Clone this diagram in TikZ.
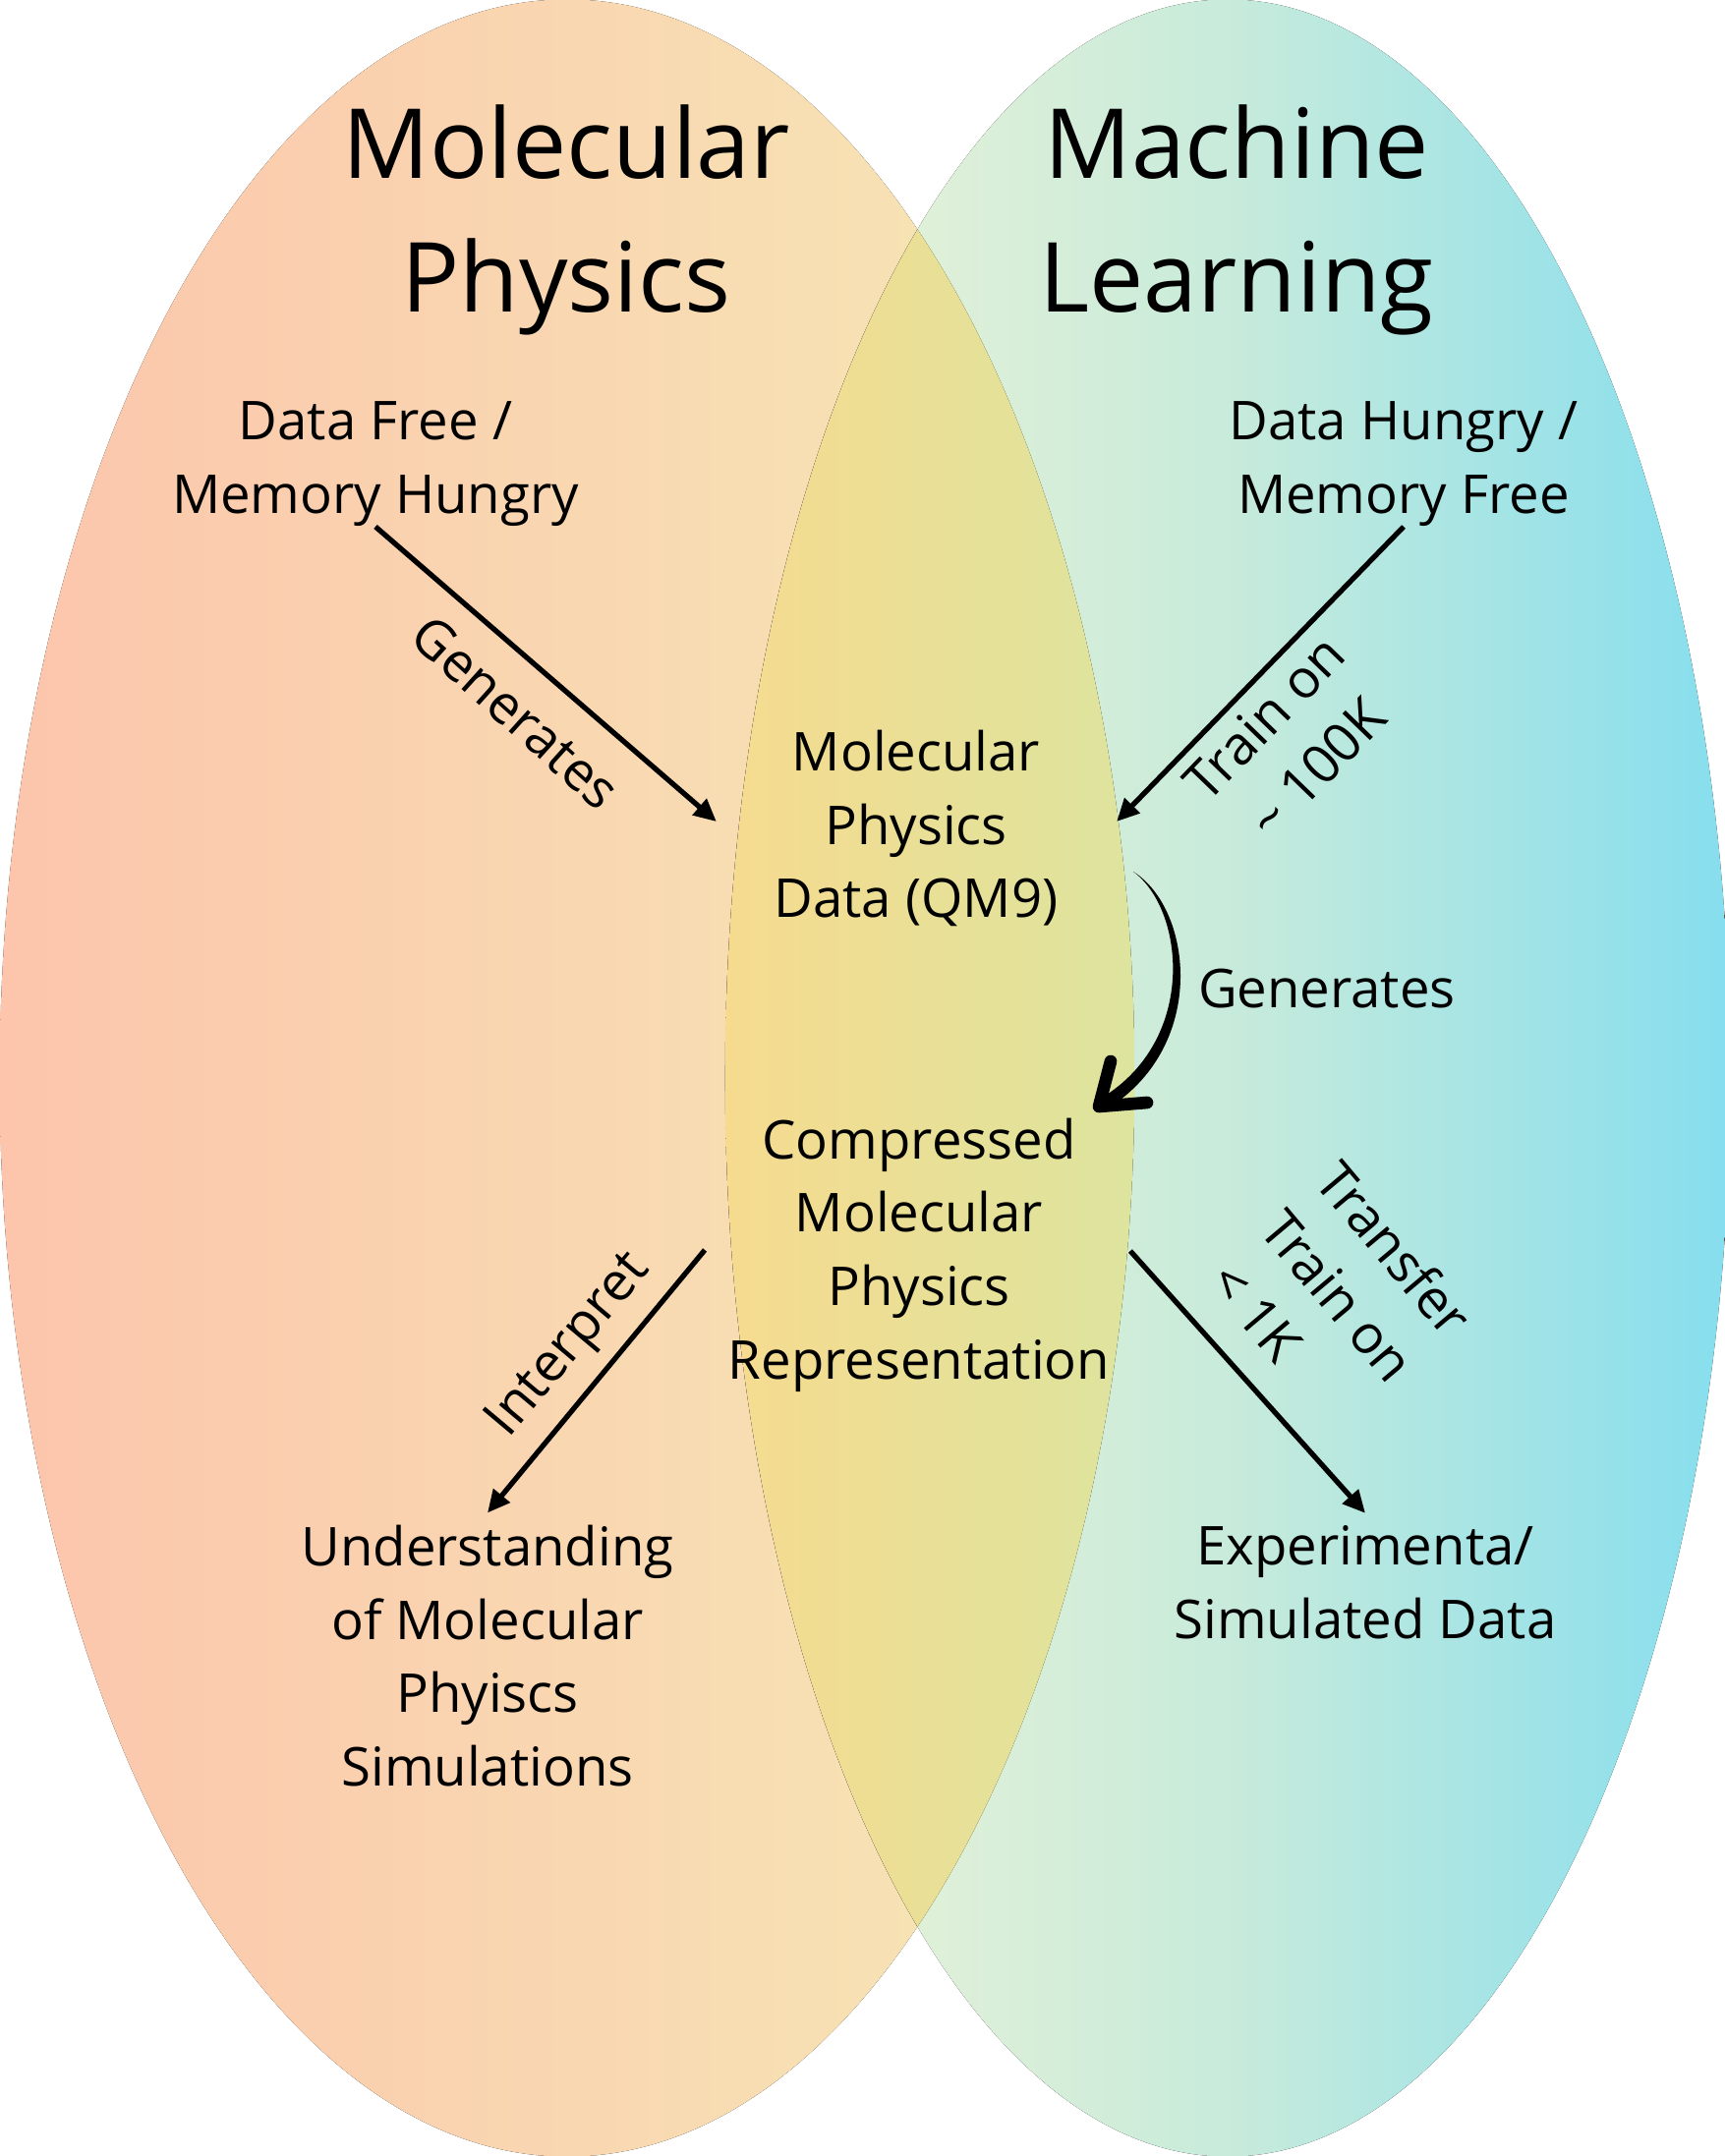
\documentclass[tikz,border=0pt]{standalone}
\usepackage{fontspec}
\setmainfont{Open Sans}
\usetikzlibrary{arrows.meta}

\definecolor{peach}{HTML}{FCC5AC}
\definecolor{sand}{HTML}{F6E9B6}
\definecolor{mintl}{HTML}{EEF3D6}
\definecolor{mintm}{HTML}{C8EBDB}
\definecolor{cyanr}{HTML}{86DEEE}
\definecolor{mixl}{HTML}{F6DB8F}
\definecolor{mixr}{HTML}{DDE49E}

\begin{document}
\begin{tikzpicture}[x=0.01cm,y=-0.01cm,
  ttl/.style={align=center,inner sep=0pt,font=\fontsize{28}{38.5}\selectfont},
  txt/.style={align=center,inner sep=0pt,font=\fontsize{15.5}{21.2}\selectfont},
  arr/.style={line width=1.5pt,-{Triangle[length=6.5pt,width=6pt]}}]
\useasboundingbox (0,0) rectangle (1755,2194);
% the two ellipses and their overlap
\fill[left color=peach,right color=sand] (577,1097) ellipse [x radius=5.77cm,y radius=10.97cm];
\fill[left color=mintl,right color=cyanr,middle color=mintm] (1249,1097) ellipse [x radius=5.11cm,y radius=10.97cm];
\begin{scope}
\clip (577,1097) ellipse [x radius=5.77cm,y radius=10.97cm];
\clip (1249,1097) ellipse [x radius=5.11cm,y radius=10.97cm];
\fill[left color=mixl,right color=mixr] (738,0) rectangle (1154,2194);
\end{scope}

% titles
\node[ttl] (mp) at (576,224) {Molecular\\Physics};
\node[ttl] (ml) at (1258,224) {Machine\\Learning};

% boxes of text
\node[txt] (dfree) at (382,472) {Data Free /\\Memory Hungry};
\node[txt] (dhungry) at (1428,472) {Data Hungry /\\Memory Free};
\node[txt] (qm9) at (932,843) {Molecular\\Physics\\Data (QM9)};
\node[txt] (rep) at (935,1277) {Compressed\\Molecular\\Physics\\Representation};
\node[txt] (und) at (496,1685) {Understanding\\of Molecular\\Phyiscs\\Simulations};
\node[txt] (exp) at (1389,1610) {Experimenta/\\Simulated Data};

% arrow labels
\node[txt,rotate=-42] (lgen) at (525,725) {Generates};
\node[txt,rotate=46] (ltrain) at (1313,756) {Train on\\\textasciitilde{} 100K};
\node[txt] (lgen2) at (1350,1006) {Generates};
\node[txt,rotate=50] (linterp) at (580,1370) {Interpret};
\node[txt,rotate=-50] (ltransfer) at (1362,1318) {Transfer\\Train on\\< 1K\hspace*{1.5em}};

% arrows
\draw[arr] (dfree.south) -- ([xshift=-0.58cm,yshift=0.07cm]qm9.west);
\draw[arr] (dhungry.south) -- ([xshift=0.59cm,yshift=0.07cm]qm9.east);
\draw[arr] ([xshift=-0.23cm,yshift=0.05cm]rep.west) -- ([yshift=0.12cm]und.north);
\draw[arr] ([xshift=0.2cm,yshift=0.04cm]rep.east) -- ([yshift=0.12cm]exp.north);

% curved arrow qm9 -> rep
\coordinate (gtail) at (1153,887);
\coordinate (ghead) at (1118,1126);
\fill (gtail) .. controls (1214,925) and (1230,1068) .. (1122,1131) -- (1116,1120) .. controls (1219,1062) and (1206,926) .. (gtail) -- cycle;
\draw[line width=3.6pt,line cap=round,line join=round] (1130,1080) -- (ghead) -- (1167,1122);
\end{tikzpicture}
\end{document}
